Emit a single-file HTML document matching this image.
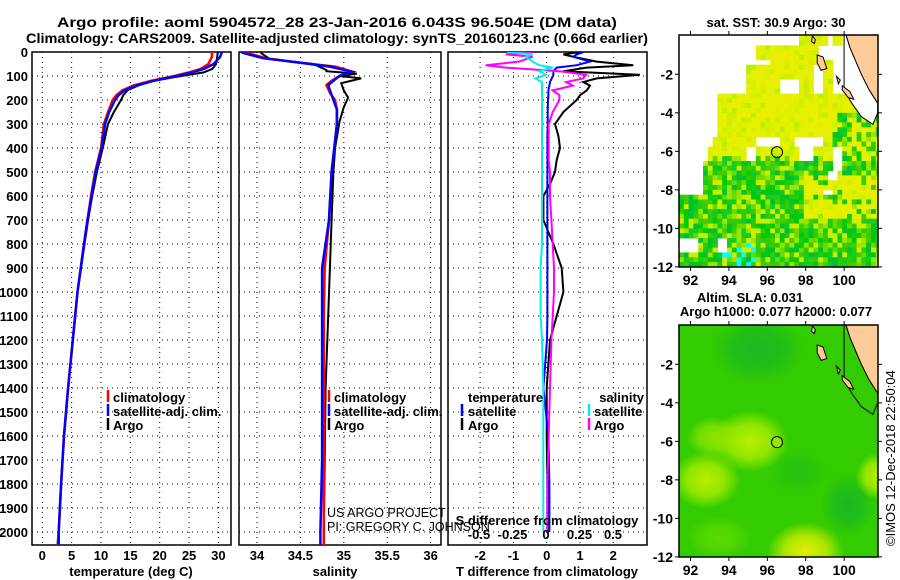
<!DOCTYPE html>
<html><head><meta charset="utf-8"><style>
html,body{margin:0;padding:0;background:#fff}
svg{display:block;font-family:"Liberation Sans",Arial,sans-serif}
.b{font-weight:bold}
</style></head><body>
<svg id="fig" width="900" height="580" viewBox="0 0 900 580" xmlns="http://www.w3.org/2000/svg">
<text x="337" y="27" text-anchor="middle" class="b" font-size="14" textLength="560" lengthAdjust="spacingAndGlyphs">Argo profile: aoml 5904572_28 23-Jan-2016 6.043S 96.504E (DM data)</text>
<text x="337" y="43" text-anchor="middle" class="b" font-size="14" textLength="622" lengthAdjust="spacingAndGlyphs">Climatology: CARS2009. Satellite-adjusted climatology: synTS_20160123.nc (0.66d earlier)</text>
<g id="p1"></g>
<g id="p2"></g>
<g id="p3"></g>
<g id="m1"></g>
<g id="m2"></g>
<text transform="translate(895,546) rotate(-90)" font-size="13">©IMOS 12-Dec-2018 22:50:04</text>
</svg>
<script>
// ---------- data ----------
const tDepthArgo=[0,20,50,70,85,95,105,120,140,160,180,200,250,300,400,500,600,700,800,1000,1200,1400,1600,1800,2000];
const tArgo=[29.9,29.8,29.6,29.0,27.5,25,22.5,19,16.3,14.5,13.8,13.4,12.2,11.2,10.3,9.3,8.5,7.8,7.2,6.0,5.2,4.4,3.7,3.2,2.8];
const tDepthClim=[0,20,50,70,85,100,120,140,160,180,200,250,300,400,500,600,700,800,1000,1200,1400,1600,1800,2000,2055];
const tClim=[28.9,28.9,28.3,27,25,22.5,18.5,15.5,13.6,12.6,12.0,11.2,10.5,10.0,9.0,8.3,7.7,7.1,6.0,5.2,4.4,3.7,3.2,2.8,2.6];
const tSat=[30.6,30.3,29.2,27.6,25.5,23,19,16,14,13,12.4,11.4,10.7,10.1,9.1,8.4,7.7,7.1,6.0,5.2,4.4,3.7,3.2,2.8,2.8];
const sDepthArgo=[0,5,30,50,75,80,90,100,110,130,160,190,230,290,400,500,700,900,1100,1400,1700,2000,2040];
const sArgo=[34.05,34.05,34.15,34.65,34.8,34.8,35.15,34.95,35.2,34.97,35.0,35.05,35.0,34.95,34.9,34.88,34.86,34.84,34.82,34.79,34.78,34.77,34.77];
const sDepthClim=[0,5,26,45,61,82,100,120,138,170,200,240,300,400,500,700,900,1100,1400,1700,2000,2055];
const sClim=[33.85,33.9,34.1,34.5,34.9,35.1,34.95,34.86,34.8,34.84,34.9,34.92,34.92,34.89,34.86,34.83,34.78,34.77,34.77,34.77,34.77,34.77];
const sSat=[33.82,33.85,34.07,34.5,34.84,35.09,34.95,34.88,34.82,34.85,34.88,34.92,34.92,34.89,34.86,34.83,34.75,34.75,34.75,34.75,34.73,34.73];
const dDepth=[0,10,20,40,55,65,80,95,110,125,140,160,180,200,250,300,350,400,450,500,550,600,700,800,900,1000,1100,1200,1400,1600,1800,2000];
const dTArgo=[1.0,0.5,0.8,1.5,2.6,1.2,0.5,2.8,1.5,1.1,1.3,1.2,1.0,0.9,0.5,0.25,0.35,0.4,0.3,0.25,0.1,-0.1,-0.1,0.2,0.45,0.5,0.3,0.1,0.0,0.0,0.02,0.02];
const dTSat=[1.1,0.9,0.8,1.3,0.9,0.3,0.2,0.2,0.15,0.1,0.08,0.05,0.05,0.04,0.03,0.03,0.02,0.02,0.02,0.02,0.02,0.02,0.02,0.02,0.02,0.02,0.02,0.01,-0.1,0.05,0.08,0.08];
const dSArgo=[-0.1,-0.3,-0.1,-0.2,-0.45,-0.3,0.1,0.3,0.28,0.15,0.2,0.05,0.1,0.1,0.05,0.02,0.02,0.02,0.02,0.03,0.03,0.03,0.04,0.05,0.06,0.06,0.05,0.04,0.03,0.02,0.01,0.01];
const dSSat=[-0.29,-0.1,-0.15,-0.1,-0.05,0.05,-0.05,0.0,-0.08,-0.03,-0.03,-0.03,-0.03,-0.03,-0.03,-0.03,-0.03,-0.03,-0.03,-0.03,-0.03,-0.03,-0.03,-0.03,-0.04,-0.04,-0.04,-0.03,-0.02,-0.02,-0.02,-0.02];
const depthTicks=[0,100,200,300,400,500,600,700,800,900,1000,1100,1200,1300,1400,1500,1600,1700,1800,1900,2000];
const tTicks=[0,5,10,15,20,25,30];
const sTicks=[34,34.5,35,35.5,36];
const sTickLabels=["34","34.5","35","35.5","36"];
const dTTicks=[-2,-1,0,1,2];
const dSTicks=[-0.5,-0.25,0,0.25,0.5];
const dSTickLabels=["-0.5","-0.25","0","0.25","0.5"];
const lonTicks=[92,94,96,98,100];
const latTicks=[-2,-4,-6,-8,-10,-12];
const floatLon=96.504, floatLat=-6.043;

// ---------- helpers ----------
const NS="http://www.w3.org/2000/svg";
function mk(parent,tag,attrs,text){const e=document.createElementNS(NS,tag);for(const k in attrs)e.setAttribute(k,attrs[k]);if(text!==undefined)e.textContent=text;parent.appendChild(e);return e;}
const TOP=52,BOT=545;
const yD=d=>TOP+d*0.24;

function frame(g,x0,x1,vticks,xfun,name,clipId){
  const defs=mk(g,'defs',{});
  const cp=mk(defs,'clipPath',{id:clipId});
  mk(cp,'rect',{x:x0,y:TOP,width:x1-x0,height:BOT-TOP});
  for(const d of depthTicks){const l=mk(g,'line',{x1:x0,x2:x1,y1:yD(d),y2:yD(d),stroke:'#000','stroke-width':1,'stroke-dasharray':'1,4'});
    }
  for(const v of vticks){const x=xfun(v);const l=mk(g,'line',{x1:x,x2:x,y1:TOP,y2:BOT,stroke:'#000','stroke-width':1,'stroke-dasharray':'1,4'});
    }
  const r=mk(g,'rect',{x:x0,y:TOP,width:x1-x0,height:BOT-TOP,fill:'none',stroke:'#000','stroke-width':1.5});
  
}
function line(g,xs,ds,xf,color,w,clip,name){
  const pts=xs.map((v,i)=>xf(v).toFixed(1)+','+yD(ds[i]).toFixed(1)).join(' ');
  const p=mk(g,'polyline',{points:pts,fill:'none',stroke:color,'stroke-width':w,'clip-path':'url(#'+clip+')'});
  
}
function txt(g,x,y,s,opts,name){const t=mk(g,'text',Object.assign({x:x,y:y,'font-size':13,'font-weight':'bold'},opts||{}),s);
  return t;}
function legMark(g,x,y,color){const l=mk(g,'line',{x1:x,x2:x,y1:y-11,y2:y+1,stroke:color,'stroke-width':2.5});
  }

// ---------- panel 1 ----------
const p1=document.getElementById('p1');
const xT=t=>42.3+t*5.87;
frame(p1,32,231,tTicks,xT,'temperature-panel','c1');
for(const d of depthTicks){txt(p1,28,yD(d)+5,String(d),{'text-anchor':'end'},'depth-tick-label');}
for(const t of tTicks){txt(p1,xT(t),560,String(t),{'text-anchor':'middle'},'temperature-tick-label');}
txt(p1,131,576,'temperature (deg C)',{'text-anchor':'middle'},'x-axis-title');
line(p1,tArgo,tDepthArgo,xT,'#000',2,'c1','argo-temperature-line');
line(p1,tClim,tDepthClim,xT,'#f00',2.5,'c1','climatology-temperature-line');
line(p1,tSat,tDepthClim,xT,'#00f',2.5,'c1','satellite-temperature-line');
legMark(p1,108,401,'#f00');txt(p1,113,402,'climatology',{},'legend-entry');
legMark(p1,108,415,'#00f');txt(p1,113,416,'satellite-adj. clim.',{},'legend-entry');
legMark(p1,108,429,'#000');txt(p1,113,430,'Argo',{},'legend-entry');

// ---------- panel 2 ----------
const p2=document.getElementById('p2');
const xS=s=>257+(s-34)*86.8;
frame(p2,239,441,sTicks,xS,'salinity-panel','c2');
sTicks.forEach((s,i)=>txt(p2,xS(s),560,sTickLabels[i],{'text-anchor':'middle'},'salinity-tick-label'));
txt(p2,335,576,'salinity',{'text-anchor':'middle'},'x-axis-title');
line(p2,sArgo,sDepthArgo,xS,'#000',2,'c2','argo-salinity-line');
line(p2,sClim,sDepthClim,xS,'#f00',2.5,'c2','climatology-salinity-line');
line(p2,sSat,sDepthClim,xS,'#00f',2.5,'c2','satellite-salinity-line');
legMark(p2,329,401,'#f00');txt(p2,334,402,'climatology',{},'legend-entry');
legMark(p2,329,415,'#00f');txt(p2,334,416,'satellite-adj. clim.',{},'legend-entry');
legMark(p2,329,429,'#000');txt(p2,334,430,'Argo',{},'legend-entry');
txt(p2,327,517,'US ARGO PROJECT',{'font-weight':'normal','font-size':12.5},'credit-project');
txt(p2,327,531,'PI: GREGORY C. JOHNSON',{'font-weight':'normal','font-size':12.5},'credit-pi');

// ---------- panel 3 ----------
const p3=document.getElementById('p3');
const xdT=t=>546.7+t*33.3;
const xdS=s=>546+s*134;
frame(p3,448,647,dTTicks,xdT,'difference-panel','c3');
dTTicks.forEach(t=>txt(p3,xdT(t),560,String(t),{'text-anchor':'middle'},'t-difference-tick-label'));
txt(p3,547,576,'T difference from climatology',{'text-anchor':'middle'},'x-axis-title');
line(p3,dTArgo,dDepth,xdT,'#000',2,'c3','argo-t-difference-line');
line(p3,dTSat,dDepth,xdT,'#00f',2,'c3','satellite-t-difference-line');
line(p3,dSArgo,dDepth,xdS,'#f0f',2,'c3','argo-s-difference-line');
line(p3,dSSat,dDepth,xdS,'#0ee',2,'c3','satellite-s-difference-line');
txt(p3,547,525,'S difference from climatology',{'text-anchor':'middle'},'s-difference-axis-title');
dSTicks.forEach((s,i)=>txt(p3,xdS(s),539,dSTickLabels[i],{'text-anchor':'middle'},'s-difference-tick-label'));
txt(p3,468,402,'temperature',{},'legend-heading');
txt(p3,644,402,'salinity',{'text-anchor':'end'},'legend-heading');
legMark(p3,462,415,'#00f');txt(p3,468,416,'satellite',{},'legend-entry');
legMark(p3,462,429,'#000');txt(p3,468,430,'Argo',{},'legend-entry');
legMark(p3,589,415,'#0ee');txt(p3,594,416,'satellite',{},'legend-entry');
legMark(p3,589,429,'#f0f');txt(p3,594,430,'Argo',{},'legend-entry');

// ---------- maps ----------
const MX0=679,MX1=878;
const lonX=l=>MX0+(l-91.4)*19.2;
function hash(i,j,k){let h=(i*374761393+j*668265263+k*1442695041)|0;h=(h^(h>>>13))*1274126177|0;h=h^(h>>>16);return ((h>>>0)%10000)/10000;}
const landPoly=[[100.05,0.2],[102,0.2],[102,-3.5],[101.75,-3.5],[101.3,-2.8],[100.9,-2.0],[100.6,-1.3],[100.3,-0.6]];
const islands=[[[98.6,-1.0],[98.9,-1.1],[99.1,-1.7],[98.8,-1.8],[98.6,-1.4]],[[99.6,-2.1],[99.8,-2.3],[99.7,-2.5]],[[99.9,-2.6],[100.3,-2.9],[100.5,-3.3],[100.2,-3.2],[99.9,-2.8]],[[98.35,0],[98.5,-0.2],[98.45,-0.4],[98.3,-0.3]]];
const strip=[[100.0,0.2],[100.05,0.2],[100.3,-0.6],[100.6,-1.3],[100.9,-2.0],[101.3,-2.8],[101.75,-3.5],[101.75,-4.0],[101.5,-4.6],[100.9,-4.2],[100.4,-3.5],[100.0,-2.8],[100.0,-1.0]];
function drawMap(g,y0,y1,title1,title2,kind,clipId){
  const latY=la=>y0+(-la+0.04)*19.26;
  const defs=mk(g,'defs',{});
  const cp=mk(defs,'clipPath',{id:clipId});mk(cp,'rect',{x:MX0,y:y0,width:MX1-MX0,height:y1-y0});
  const cg=mk(g,'g',{'clip-path':'url(#'+clipId+')'});
  if(kind==='sst'){
    const yellows=['#e6f000','#e6f000','#e6f000','#e6f000','#ddf000','#d0ee00'];
    const greens=['#33cc00','#00cc00','#66dd00','#22cc11','#00c033','#99e600','#44cc00','#11cc22'];
    for(let i=0;i<42;i++)for(let j=0;j<50;j++){
      const lon=91.4+i*0.25+0.125, lat=-(j*0.25+0.125);
      let ok=false;
      if(lat>-0.5) ok=(lon>97.6&&lon<99.1)||(lon>99.3&&lon<100);
      else if(lat>-1.2) ok=lon>95.5&&lon<98.6;
      else if(lat>-1.6) ok=lon>96.2&&lon<99.5;
      else if(lat>-3.0) ok=(lon>95&&lon<98.5&&!(lon>96.6&&lon<97.6&&lat<-2.3))||(lon>98.9&&lon<99.4);
      else if(lat>-3.5) ok=lon>93.4&&lon<100.5;
      else if(lat>-5.2) ok=lon>93.4;
      else if(lat>-5.7) ok=(lon>93.2&&lon<95.4)||(lon>96.6&&lon<97.4)||lon>99;
      else if(lat>-6.5) ok=(lon>92.8&&lon<94.8)||(lon>95.5&&lon<97.7)||(lon>98.3&&lon<99.5)||lon>100;
      else if(lat>-7.0) ok=lon>92.7&&!(lon>99.3&&lon<99.8);
      else if(lat>-8.3) ok=lon>92.7&&!(lon>99.2&&lon<99.7&&lat>-7.5)&&!(lon>98.9&&lon<99.3&&lat<-8);
      else ok=!((lon<92.3&&lat<-10.5&&lat>-11.3)||(lon>93.5&&lon<94&&lat<-10.5&&lat>-11.2));
      if(!ok) continue;
      const h=hash(i,j,1);
      let c;
      if(lat>-6.2 && !(lon>99.3&&lat<-4)) c=h<0.93?yellows[Math.floor(hash(i,j,2)*6)]:'#bbee00';
      else if(lat>-6.6) c=h<0.5?yellows[Math.floor(hash(i,j,2)*6)]:greens[Math.floor(hash(i,j,3)*8)];
      else if(lon>97.8&&lat>-9.6&&lat<-7.2) c=h<0.75?yellows[Math.floor(hash(i,j,2)*6)]:greens[Math.floor(hash(i,j,3)*8)];
      else if(lon>99.3&&lat>-6.2) c=h<0.5?yellows[Math.floor(hash(i,j,2)*6)]:greens[Math.floor(hash(i,j,3)*8)];
      else c=h<0.18?'#ccee00':greens[Math.floor(hash(i,j,3)*8)];
      if(lat<-10.6&&lon>93.5&&lon<95.5&&hash(i,j,4)<0.25) c='#00ffff';
      const r=mk(cg,'rect',{x:lonX(91.4+i*0.25).toFixed(1),y:latY(-j*0.25).toFixed(1),width:5.3,height:5.3,fill:c});
      
    }
  } else {
    mk(cg,'rect',{x:MX0,y:y0,width:MX1-MX0,height:y1-y0,fill:'#33cc00'});
    const blobs=[[95.5,-1.2,2.4,1.8,'#10b030',0.7],[100.2,-9.3,1.4,1.6,'#10b030',0.7],[97.6,-7.6,1.5,1.2,'#20b820',0.5],
      [95.1,-6.0,2.0,1.6,'#b8f000',1],[92.8,-8.0,1.8,1.5,'#b8f000',1],[93.2,-5.8,1.4,1.1,'#99e600',0.9],
      [98.0,-11.7,2.0,1.5,'#e0f000',1],[101.7,-7.8,1.1,1.2,'#b8f000',1],[93.5,-11,1.7,1.1,'#66dd00',0.8]];
    blobs.forEach((b,k)=>{const gid=clipId+'g'+k;const rg=mk(defs,'radialGradient',{id:gid});
      mk(rg,'stop',{offset:'0%','stop-color':b[4],'stop-opacity':b[5]});mk(rg,'stop',{offset:'55%','stop-color':b[4],'stop-opacity':b[5]*0.7});mk(rg,'stop',{offset:'100%','stop-color':b[4],'stop-opacity':0});
      const e=mk(cg,'ellipse',{cx:lonX(b[0]),cy:latY(b[1]),rx:b[2]*19.2,ry:b[3]*19.26,fill:'url(#'+gid+')'});
      });
  }
  const P=pts=>pts.map(p=>lonX(p[0]).toFixed(1)+','+latY(p[1]).toFixed(1)).join(' ');
  if(kind==='sst'){const s=mk(cg,'polygon',{points:P(strip),fill:'#fff',stroke:'#000','stroke-width':1});}
  else {const s=mk(cg,'polygon',{points:P(strip),fill:'none',stroke:'#000','stroke-width':1});}
  const land=mk(cg,'polygon',{points:P(landPoly),fill:'#ffcc99',stroke:'#000','stroke-width':1});
  
  islands.forEach(is=>{const p=mk(cg,'polygon',{points:P(is),fill:'#ffcc99',stroke:'#000','stroke-width':1});});
  const fl=mk(g,'circle',{cx:lonX(floatLon),cy:latY(floatLat),r:5.5,fill:kind==='sst'?'none':'#99e600',stroke:'#000','stroke-width':1});
  
  const fr=mk(g,'rect',{x:MX0,y:y0,width:MX1-MX0,height:y1-y0,fill:'none',stroke:'#000','stroke-width':1.5});
  
  for(const l of lonTicks){const x=lonX(l);mk(g,'line',{x1:x,x2:x,y1:y0-4,y2:y0,stroke:'#000'});mk(g,'line',{x1:x,x2:x,y1:y1,y2:y1+4,stroke:'#000'});
    txt(g,x,y1+18,String(l),{'text-anchor':'middle','font-size':14},'longitude-tick-label');}
  for(const la of latTicks){const y=latY(la);mk(g,'line',{x1:MX0-4,x2:MX0,y1:y,y2:y,stroke:'#000'});mk(g,'line',{x1:MX1,x2:MX1+4,y1:y,y2:y,stroke:'#000'});
    txt(g,MX0-6,y+5,String(la),{'text-anchor':'end','font-size':14},'latitude-tick-label');}
  if(title2){txt(g,750,302,title1,{'text-anchor':'middle'},'map-title');txt(g,776,316,title2,{'text-anchor':'middle'},'map-subtitle');}
  else txt(g,776,27,title1,{'text-anchor':'middle'},'map-title');
}
drawMap(document.getElementById('m1'),35,267,'sat. SST: 30.9 Argo: 30',null,'sst','cm1');
drawMap(document.getElementById('m2'),325,557,'Altim. SLA: 0.031','Argo h1000: 0.077 h2000: 0.077','sla','cm2');
</script>
</body></html>
